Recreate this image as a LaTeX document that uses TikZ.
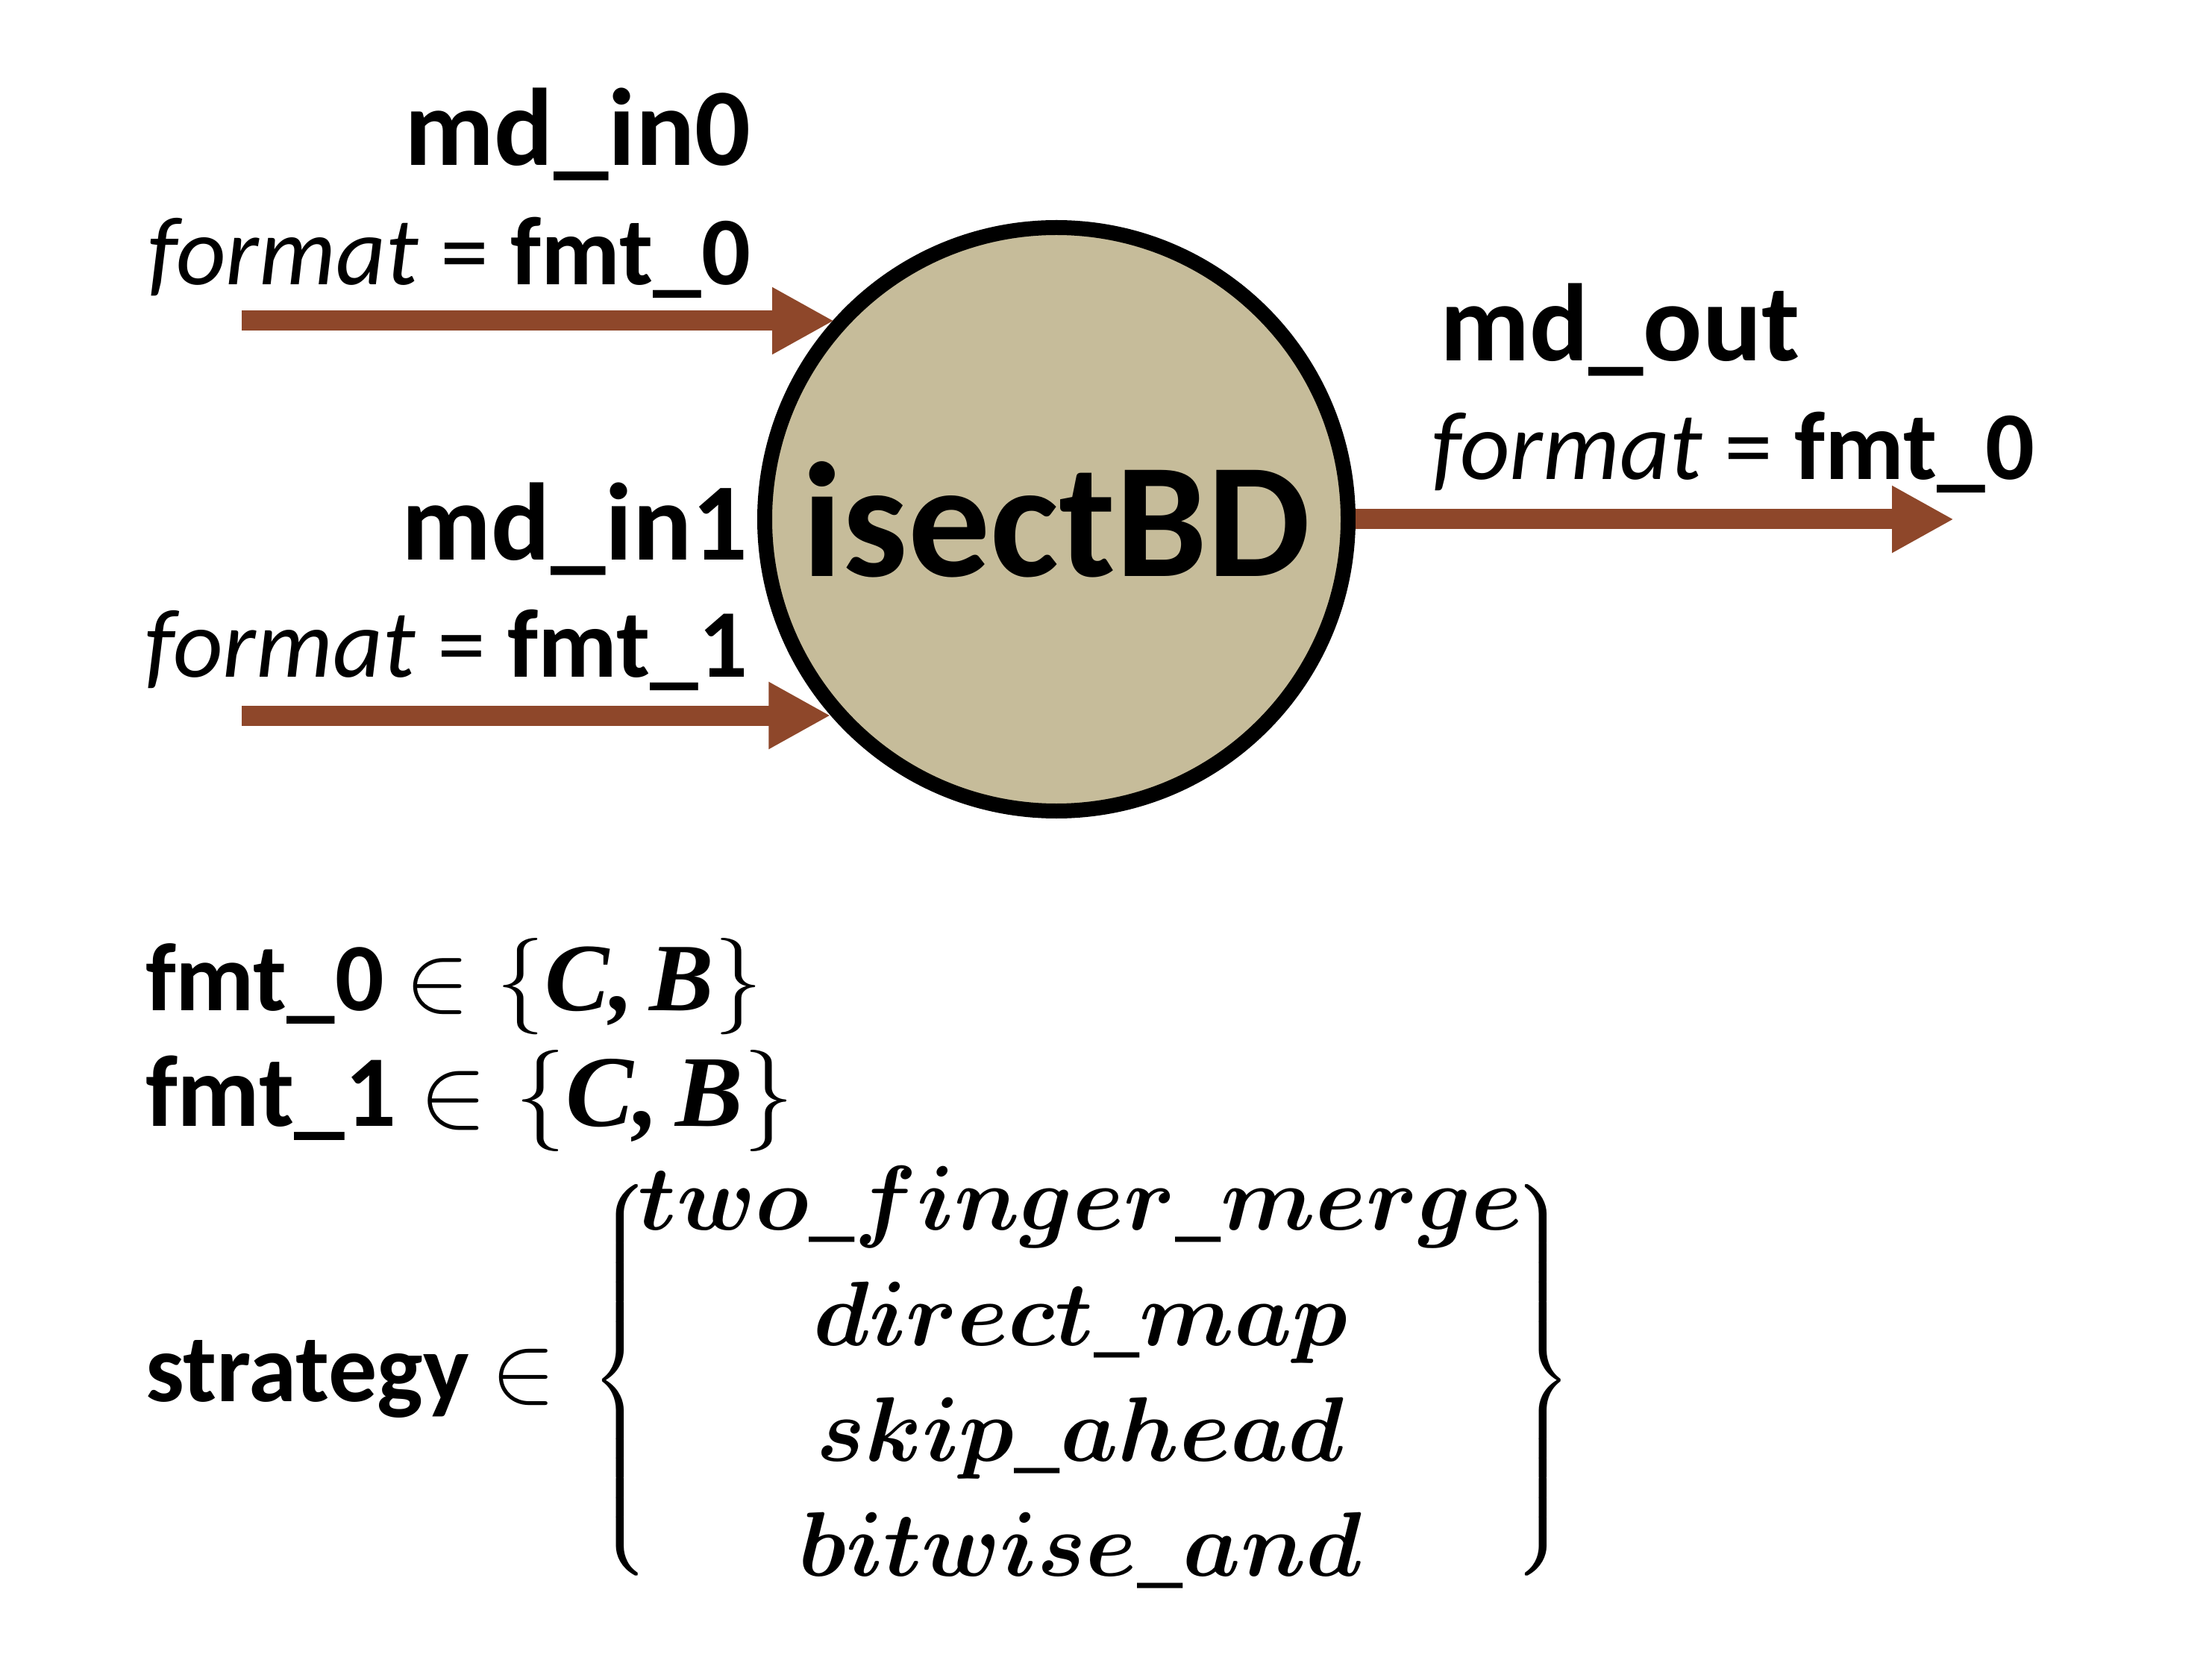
\RequirePackage{fix-cm}
\documentclass[tikz,border=0pt]{standalone}
\usepackage{amsmath}
\usepackage{fontspec}
\setmainfont{Carlito}
\newfontfamily\serifbi{Liberation Serif}
\usepackage{tikz}
\usetikzlibrary{arrows.meta,positioning,calc}
\definecolor{bdtan}{HTML}{C6BC9A}
\definecolor{wirebrown}{HTML}{8E472A}
\newcommand{\portname}[1]{{\fontsize{42}{50}\selectfont\bfseries #1}}
\newcommand{\fmtlbl}[1]{{\fontsize{37}{44}\selectfont\textit{format} = \textbf{fmt\_#1}}}
\newcommand{\setlbl}[2]{{\fontsize{#2}{#2}\selectfont\textbf{#1} $\in\{\text{\serifbi\bfseries\itshape C,\,B}\}$}}
\newcommand{\bracestrut}{\vcenter{\hbox{\rule{0pt}{145pt}}}}
\newsavebox{\stratbox}
\tikzset{
  opnode/.style={circle, draw=black, line width=2mm, fill=bdtan, minimum size=7.82cm,
                 inner sep=0pt, font=\fontsize{62.4}{70}\selectfont\bfseries},
  lbl/.style={inner sep=0pt, outer sep=0pt},
  wire/.style={-{Triangle[length=8.3mm,width=8.4mm]}, line width=2.7mm, color=wirebrown}}
\begin{document}
\sbox{\stratbox}{\fontsize{35}{44}\selectfont\delimiterfactor=1000 \delimitershortfall=0pt
  \boldmath$\left\{\bracestrut\right.\kern-12pt
  \begin{matrix} two\_finger\_merge\\ direct\_map\\ skip\_ahead\\ bitwise\_and\end{matrix}
  \kern-11pt\left.\bracestrut\right\}$}
\begin{tikzpicture}
  \fill[white] (0,0) rectangle (29.65,-22.41);
  \useasboundingbox (0,0) rectangle (29.65,-22.41);
  \node[opnode] (isect) at (14.16,-6.96) {isectBD};
  \node[lbl, anchor=base east] (in0name) at (10.06,-2.22) {\portname{md\_in0}};
  \node[lbl, anchor=base east] (in0fmt) at (10.06,-3.82) {\fmtlbl{0}};
  \node[lbl, anchor=base east] (in1name) at (10.02,-7.51) {\portname{md\_in1}};
  \node[lbl, anchor=base east] (in1fmt) at (10.02,-9.08) {\fmtlbl{1}};
  \node[lbl, anchor=base west] (outname) at (19.30,-4.84) {\portname{md\_out}};
  \node[lbl, anchor=base west] (outfmt) at (19.19,-6.43) {\fmtlbl{0}};
  \coordinate (in0) at (3.24,-4.30);
  \coordinate (in1) at (3.24,-9.59);
  \coordinate (out) at (26.19,-6.96);
  \draw[wire] (in0) -- (in0 -| isect.138.5);
  \draw[wire] (in1) -- (in1 -| isect.221);
  \draw[wire] (isect.east) -- (out);
  \node[lbl, anchor=base west] (fmt0set) at (1.95,-13.54) {\setlbl{fmt\_0}{36.8}};
  \node[lbl, anchor=base west] (fmt1set) at (1.95,-15.09) {\setlbl{fmt\_1}{38.7}};
  \node[lbl, anchor=base west, font=\fontsize{37}{44}\selectfont] (strat) at (1.95,-18.78)
    {\textbf{strategy} $\in$};
  \node[lbl] (stratset) at (14.50,-18.50) {\usebox{\stratbox}};
\end{tikzpicture}
\end{document}
